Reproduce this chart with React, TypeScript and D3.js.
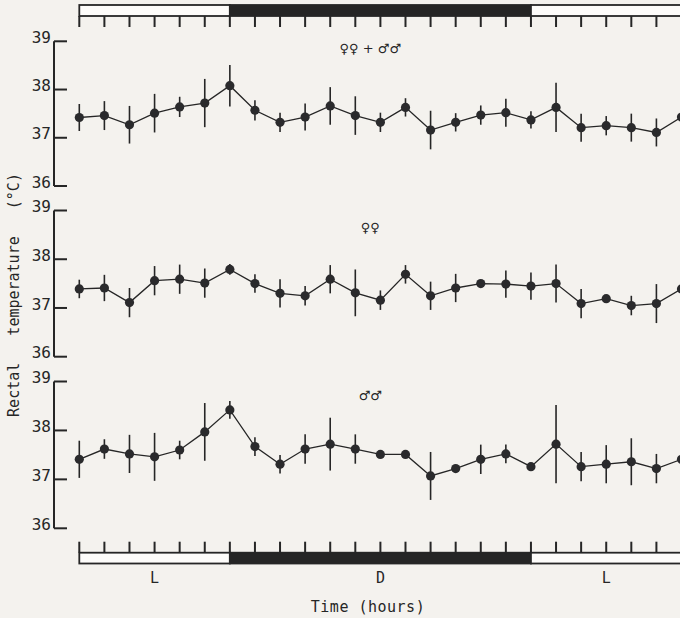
import React from "react";
import * as d3 from "d3";

// hour index of each sample (0 = start of first light period)
const hours = [0, 1, 2, 3, 4, 5, 6, 7, 8, 9, 10, 11, 12, 13, 14, 15, 16, 17, 18, 19, 20, 21, 22, 23, 24];

// light / dark periods, in hours
const periods = [
  { start: 0, end: 6, dark: false },
  { start: 6, end: 18, dark: true },
  { start: 18, end: 27, dark: false },
];
const periodLabels = [
  { at: 3, text: "L" },
  { at: 12, text: "D" },
  { at: 21, text: "L" },
];

const yTicks = [36, 37, 38, 39];

const allMean = [
  37.42, 37.46, 37.27, 37.51, 37.64, 37.72, 38.08, 37.57, 37.32, 37.43, 37.66, 37.46, 37.32,
  37.63, 37.16, 37.32, 37.47, 37.52, 37.37, 37.63, 37.21, 37.25, 37.21, 37.11, 37.43,
];
const allErr = [
  0.28, 0.3, 0.39, 0.4, 0.21, 0.5, 0.43, 0.21, 0.2, 0.28, 0.39, 0.4, 0.2,
  0.19, 0.4, 0.19, 0.2, 0.29, 0.18, 0.51, 0.29, 0.2, 0.29, 0.29, 0.2,
];

const femaleMean = [
  37.39, 37.41, 37.11, 37.56, 37.59, 37.51, 37.79, 37.5, 37.3, 37.25, 37.59, 37.31, 37.16,
  37.69, 37.25, 37.41, 37.5, 37.49, 37.45, 37.5, 37.09, 37.19, 37.05, 37.09, 37.39,
];
const femaleErr = [
  0.19, 0.27, 0.3, 0.3, 0.3, 0.3, 0.11, 0.19, 0.29, 0.2, 0.29, 0.48, 0.2,
  0.19, 0.29, 0.29, 0.05, 0.28, 0.28, 0.39, 0.3, 0.05, 0.2, 0.4, 0.2,
];

const maleMean = [
  37.41, 37.62, 37.52, 37.46, 37.6, 37.97, 38.42, 37.67, 37.31, 37.62, 37.72, 37.62, 37.51,
  37.51, 37.07, 37.22, 37.41, 37.52, 37.26, 37.72, 37.26, 37.31, 37.36, 37.22, 37.41,
];
const maleErr = [
  0.38, 0.2, 0.39, 0.49, 0.19, 0.59, 0.18, 0.19, 0.19, 0.3, 0.54, 0.3, 0.05,
  0.05, 0.49, 0.05, 0.3, 0.19, 0.05, 0.8, 0.3, 0.39, 0.48, 0.3, 0.2,
];

const panels = [
  { label: "♀♀ + ♂♂", mean: allMean, err: allErr, top: 41.3, bottom: 186, labelY: 53 },
  { label: "♀♀", mean: femaleMean, err: femaleErr, top: 210.5, bottom: 356.7, labelY: 232 },
  { label: "♂♂", mean: maleMean, err: maleErr, top: 381.5, bottom: 528.3, labelY: 400 },
];

const W = 680;
const H = 618;
const ink = "#262626";
const font = "'DejaVu Sans Mono', monospace";

const App = () => {
  const x = d3.scaleLinear().domain([0, 24]).range([79.3, 681.5]);
  const axisX = 54;
  const tickLen = 13;

  const hourTicks = d3.range(0, 27);

  const drawBar = (barTop: number, barBottom: number, tickFrom: number, tickTo: number, key: string) => (
    <g key={key}>
      {periods.map((p, i) => (
        <rect
          key={i}
          x={x(p.start)}
          y={barTop}
          width={x(p.end) - x(p.start)}
          height={barBottom - barTop}
          fill={p.dark ? "#252525" : "#fdfcfa"}
          stroke={ink}
          strokeWidth={1.8}
        />
      ))}
      {hourTicks.map((h) => (
        <line key={h} x1={x(h)} x2={x(h)} y1={tickFrom} y2={tickTo} stroke={ink} strokeWidth={2} />
      ))}
    </g>
  );

  return (
    <svg
      width={W}
      height={H}
      style={{ position: "absolute", left: 0, top: 0, background: "#f4f2ee" }}
    >
      {drawBar(5, 16, 16, 27, "top")}
      {drawBar(552.7, 563.5, 541.7, 552.7, "bottom")}

      {panels.map((p, pi) => {
        const y = d3.scaleLinear().domain([36, 39]).range([p.bottom, p.top]);
        const line = d3
          .line<number>()
          .x((_, i) => x(hours[i]))
          .y((d) => y(d));
        return (
          <g key={pi}>
            <line x1={axisX} x2={axisX} y1={y(39)} y2={y(36)} stroke={ink} strokeWidth={2} />
            {yTicks.map((t) => (
              <g key={t}>
                <line x1={axisX} x2={axisX + tickLen} y1={y(t)} y2={y(t)} stroke={ink} strokeWidth={2} />
                <text
                  x={axisX - 3}
                  y={y(t)}
                  dy="0.1em"
                  textAnchor="end"
                  fontFamily={font}
                  fontSize={16}
                  fill={ink}
                >
                  {t}
                </text>
              </g>
            ))}
            <text
              x={x(11.6)}
              y={p.labelY}
              textAnchor="middle"
              fontFamily="'DejaVu Sans', sans-serif"
              fontSize={13}
              fill={ink}
            >
              {p.label}
            </text>
            {p.mean.map((m, i) => (
              <line
                key={"e" + i}
                x1={x(hours[i])}
                x2={x(hours[i])}
                y1={y(m + p.err[i])}
                y2={y(m - p.err[i])}
                stroke={ink}
                strokeWidth={1.6}
              />
            ))}
            <path d={line(p.mean) || ""} fill="none" stroke={ink} strokeWidth={1.3} />
            {p.mean.map((m, i) => (
              <circle key={"c" + i} cx={x(hours[i])} cy={y(m)} r={4.6} fill="#2a2a2c" />
            ))}
          </g>
        );
      })}

      {periodLabels.map((l) => (
        <text
          key={l.at}
          x={x(l.at)}
          y={583}
          textAnchor="middle"
          fontFamily={font}
          fontSize={15}
          fill={ink}
        >
          {l.text}
        </text>
      ))}

      <text
        x={368}
        y={612}
        textAnchor="middle"
        fontFamily={font}
        fontSize={15}
        letterSpacing={0.5}
        fill={ink}
        style={{ whiteSpace: "pre" }}
      >
        {"Time (hours)"}
      </text>

      <text
        transform={"translate(19,295) rotate(-90)"}
        textAnchor="middle"
        fontFamily={font}
        fontSize={15}
        fill={ink}
        style={{ whiteSpace: "pre" }}
      >
        {"Rectal   temperature   (°C)"}
      </text>
    </svg>
  );
};

export default App;
